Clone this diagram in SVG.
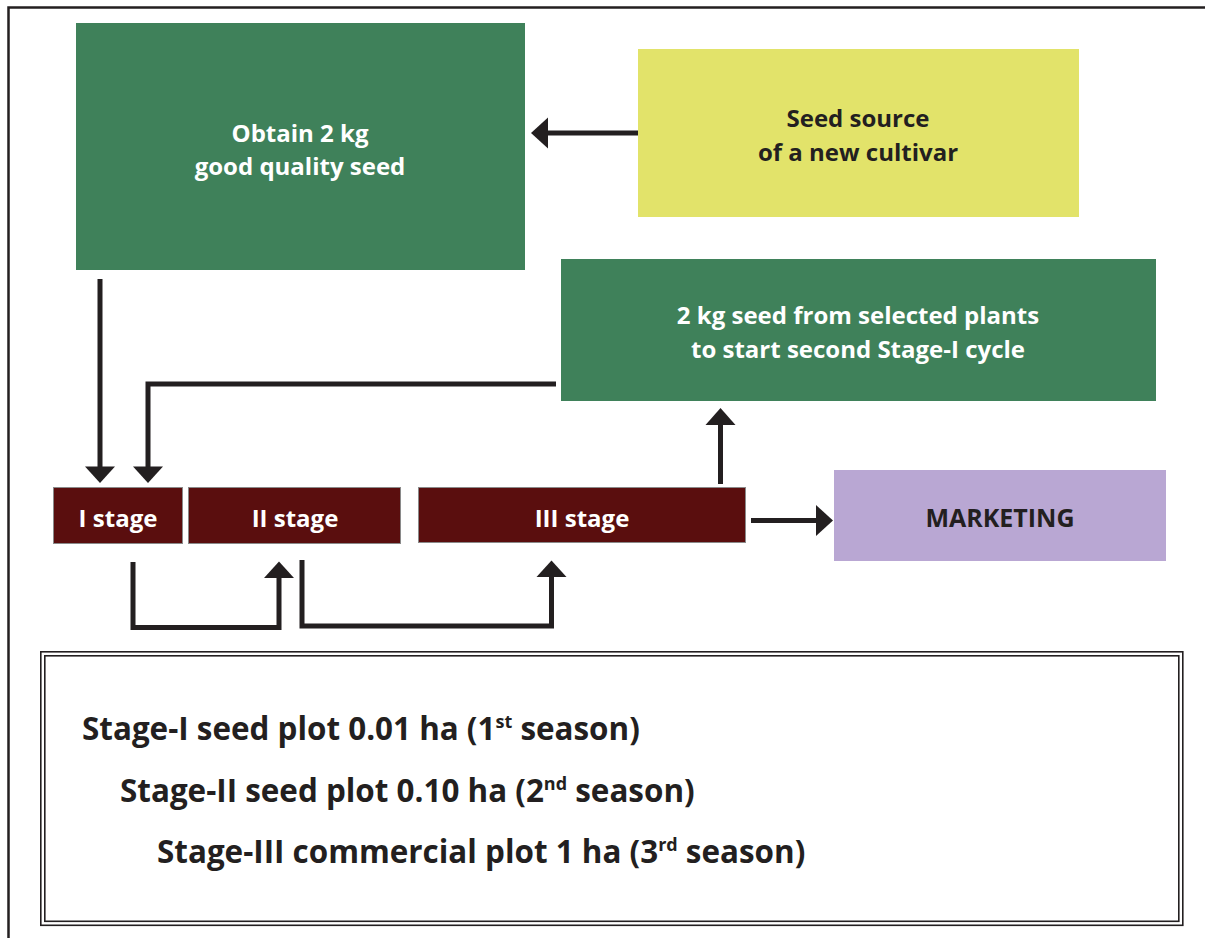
<svg xmlns="http://www.w3.org/2000/svg" width="1205" height="938" viewBox="0 0 1205 938">
  <defs>
    <style>
      .frame { fill: none; stroke: #231f20; stroke-width: 2.5; }
      .green { fill: #3f815a; }
      .yellow { fill: #e2e36a; }
      .stage { fill: #5a0e0e; stroke: #8a8a8a; stroke-width: 1; }
      .market { fill: #b9a7d3; }
      .lbl { font-family: "Open Sans", "Noto Sans", "Liberation Sans", sans-serif; font-weight: bold; text-anchor: middle; }
      .w { fill: #ffffff; }
      .d { fill: #231f20; }
      .note { font-family: "Open Sans", "Noto Sans", "Liberation Sans", sans-serif; font-weight: bold; fill: #231f20; font-size: 31.4px; }
      .sup { font-size: 18px; }
      .line { fill: none; stroke: #231f20; stroke-width: 5; stroke-linejoin: miter; stroke-linecap: butt; }
      .head { fill: #231f20; }
      .box2 { fill: none; stroke: #231f20; stroke-width: 1.6; }
    </style>
  </defs>

  <rect width="1205" height="938" fill="#ffffff"/>

  <!-- page frame: top and left edges -->
  <path class="frame" d="M8.5,938 V7.5 H1205"/>

  <!-- nodes -->
  <g id="obtain-seed">
    <rect class="green" x="76" y="23" width="449" height="247"/>
    <text class="lbl w" font-size="24" x="300" y="142">Obtain 2 kg</text>
    <text class="lbl w" font-size="24" x="300" y="175">good quality seed</text>
  </g>

  <g id="seed-source">
    <rect class="yellow" x="638" y="49" width="441" height="168"/>
    <text class="lbl d" font-size="24" x="858" y="127">Seed source</text>
    <text class="lbl d" font-size="24" x="858" y="161">of a new cultivar</text>
  </g>

  <g id="selected-plants">
    <rect class="green" x="561" y="259" width="595" height="142"/>
    <text class="lbl w" font-size="24" x="858" y="324">2 kg seed from selected plants</text>
    <text class="lbl w" font-size="24" x="858" y="358">to start second Stage-I cycle</text>
  </g>

  <g id="stage-1">
    <rect class="stage" x="53.5" y="487.5" width="129" height="56"/>
    <text class="lbl w" font-size="24" x="118" y="527">I stage</text>
  </g>

  <g id="stage-2">
    <rect class="stage" x="188.5" y="487.5" width="212" height="56"/>
    <text class="lbl w" font-size="24" x="295" y="527">II stage</text>
  </g>

  <g id="stage-3">
    <rect class="stage" x="418.5" y="487.5" width="327" height="55"/>
    <text class="lbl w" font-size="24" x="582" y="527">III stage</text>
  </g>

  <g id="marketing">
    <rect class="market" x="834" y="470" width="332" height="91"/>
    <text class="lbl d" font-size="25" x="1000" y="527">MARKETING</text>
  </g>

  <!-- connectors -->
  <g id="connectors">
    <!-- seed source -> obtain seed -->
    <path class="line" d="M638,133 H546"/>
    <path class="head" d="M531,133 L548,117.5 L548,148.5 Z"/>

    <!-- obtain seed -> I stage -->
    <path class="line" d="M100,279 V468"/>
    <path class="head" d="M100,483 L85,466.5 L115,466.5 Z"/>

    <!-- selected plants -> I stage (second cycle) -->
    <path class="line" d="M556,384 H148 V468"/>
    <path class="head" d="M148,483 L133,466.5 L163,466.5 Z"/>

    <!-- III stage -> selected plants -->
    <path class="line" d="M720.5,484 V424"/>
    <path class="head" d="M720.5,408 L705.5,425 L735.5,425 Z"/>

    <!-- III stage -> marketing -->
    <path class="line" d="M751,520.5 H818"/>
    <path class="head" d="M833,520.5 L816,505 L816,536 Z"/>

    <!-- I stage -> II stage -->
    <path class="line" d="M133,562 V627.5 H279 V576"/>
    <path class="head" d="M279,561.5 L264,578 L294,578 Z"/>

    <!-- II stage -> III stage -->
    <path class="line" d="M302,560 V626 H551.5 V576"/>
    <path class="head" d="M551.5,560.5 L536.5,577 L566.5,577 Z"/>
  </g>

  <!-- plot size notes -->
  <g id="plot-notes">
    <rect class="box2" x="40.8" y="651.8" width="1142" height="273.5"/>
    <rect class="box2" x="44.8" y="655.8" width="1134" height="265.5"/>
    <text class="note" x="82" y="740">Stage-I seed plot 0.01 ha (1<tspan class="sup" dy="-12">st</tspan><tspan dy="12"> season)</tspan></text>
    <text class="note" x="120" y="802">Stage-II seed plot 0.10 ha (2<tspan class="sup" dy="-12">nd</tspan><tspan dy="12"> season)</tspan></text>
    <text class="note" x="157" y="863">Stage-III commercial plot 1 ha (3<tspan class="sup" dy="-12">rd</tspan><tspan dy="12"> season)</tspan></text>
  </g>
</svg>
